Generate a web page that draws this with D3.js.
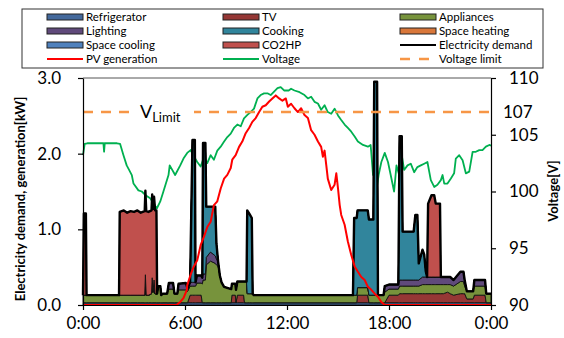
<!DOCTYPE html>
<html><head><meta charset="utf-8">
<script src="https://cdn.jsdelivr.net/npm/d3@7"></script>
<style>body{margin:0;background:#fff}svg{display:block}text{font-family:Lato,"Open Sans",sans-serif}</style>
</head><body><svg id="c" width="564" height="338"></svg>
<script>
// ---- data (hours of day) ----
const hours =        [0.00,0.05,0.17,0.21,2.12,2.16,2.40,2.60,2.80,3.00,3.20,3.40,3.63,3.67,3.72,3.85,4.03,4.07,4.12,4.18,4.24,4.32,4.36,4.42,4.55,4.60,4.70,4.95,5.05,5.30,5.38,5.55,5.62,6.05,6.15,6.30,6.44,6.58,6.62,6.70,6.95,7.02,7.06,7.20,7.25,7.50,7.78,7.85,7.95,8.05,8.15,8.30,8.72,8.76,8.96,9.00,9.08,9.45,9.50,9.62,9.66,9.80,9.93,9.98,10.05,15.88,15.95,16.10,16.15,16.75,16.82,17.08,17.13,17.30,17.35,17.68,17.75,18.00,18.55,18.62,18.75,18.80,19.45,19.55,19.67,19.75,19.97,20.07,20.16,20.24,20.30,20.50,20.66,20.75,21.00,21.05,21.20,21.45,21.60,21.80,22.20,22.38,22.45,22.58,22.95,23.02,23.65,23.72,24.00];
const refrigerator = hours.map(() => 0.03);
const tv =           [0,0,0,0,0,0,0,0,0,0,0,0,0,0,0,0,0,0,0,0,0,0,0,0,0,0,0,0,0,0,0,0,0,0,0,0.10,0.10,0.10,0.10,0.10,0.10,0,0,0,0,0,0,0,0,0,0,0,0,0.10,0.10,0,0.10,0.10,0,0,0,0,0,0,0,0,0,0,0.10,0.10,0,0,0,0,0,0,0,0.10,0.10,0.12,0.12,0.12,0.12,0.12,0.12,0.12,0.12,0.12,0.12,0.12,0.12,0.12,0.12,0.12,0.12,0.12,0.12,0.14,0.12,0.10,0.12,0.12,0.12,0.05,0.05,0.10,0.10,0,0];
const appliances =   [0.10,0.10,0.10,0.10,0.10,0.10,0.10,0.10,0.10,0.10,0.10,0.10,0.10,0.37,0.10,0.10,0.12,0.33,0.14,0.30,0.12,0.12,0.12,0.22,0.22,0.10,0.12,0.12,0.18,0.18,0.12,0.12,0.17,0.17,0.15,0.12,0.12,0.12,0.12,0.16,0.16,0.25,0.30,0.30,0.50,0.55,0.52,0.50,0.48,0.36,0.27,0.21,0.18,0.15,0.15,0.17,0.18,0.18,0.28,0.28,0.12,0.12,0.12,0.12,0.10,0.10,0.10,0.10,0.10,0.10,0.10,0.10,0.10,0.10,0.10,0.10,0.14,0.08,0.08,0.10,0.10,0.10,0.10,0.10,0.10,0.10,0.12,0.12,0.12,0.12,0.12,0.12,0.12,0.12,0.12,0.12,0.12,0.10,0.12,0.12,0.16,0.16,0.10,0.10,0.10,0.12,0.12,0.12,0.12];
const lighting =     [0,0,0,0,0,0,0,0,0,0,0,0,0,0,0,0,0,0,0,0,0,0,0,0,0,0,0,0,0.08,0.08,0,0,0.08,0.09,0.04,0.05,0.05,0.05,0.05,0.10,0.10,0.08,0.08,0.08,0.10,0.12,0.10,0.08,0.06,0,0,0,0,0,0,0,0,0,0,0,0,0,0,0,0,0,0,0,0,0,0,0,0,0,0,0,0.08,0.06,0.06,0.08,0.08,0.08,0.08,0.08,0.08,0.08,0.10,0.10,0.10,0.10,0.10,0.10,0.10,0.10,0.10,0.10,0.10,0.10,0.10,0.08,0.13,0.13,0.08,0,0,0.08,0.08,0,0];
const cooking =      [0,0,0,0,0,0,0,0,0,0,0,0,0,0,0,0,0,0,0,0,0,0,0,0,0,0,0,0,0,0,0,0,0,0,0,0,1.88,1.88,0,0,0,0,1.73,1.73,0.67,0.60,0.65,0.20,0,0,0,0,0,0,0,0,0,0,0,0,1.10,1.05,1.00,0,0,0,1.02,1.02,1.02,1.02,1.00,1.00,2.82,2.82,0,0,0,0,0,1.90,1.90,0.64,0.64,0.86,0.86,0.22,0.36,0.30,0.08,0,0,0,0,0,0,0,0,0,0,0,0,0,0,0,0,0,0,0,0];
const spaceHeating = hours.map(() => 0);
const spaceCooling = hours.map(() => 0);
const co2hp =        [0,1.08,1.08,0,0,1.10,1.12,1.09,1.11,1.10,1.12,1.09,1.11,1.11,1.11,1.10,1.10,1.10,1.10,1.10,1.10,1.10,0,0,0,0,0,0,0,0,0,0,0,0,0,0,0,0,0,0,0,0,0,0,0,0,0,0,0,0,0,0,0,0,0,0,0,0,0,0,0,0,0,0,0,0,0,0,0,0,0,0,0,0,0,0,0,0,0,0,0,0,0,0,0,0,0,0,0,0,0.97,1.08,1.08,0.97,0.97,0,0,0,0,0,0,0,0,0,0,0,0,0,0];

const pvHours = [0,5.50,5.72,5.91,6.11,6.13,6.33,6.52,6.72,6.92,7.11,7.31,7.51,7.70,7.90,8.10,8.30,8.49,8.69,8.78,8.98,9.18,9.37,9.57,9.77,9.96,10.16,10.36,10.55,10.75,10.95,11.14,11.34,11.54,11.73,11.93,12.05,12.24,12.44,12.64,12.83,13.03,13.23,13.42,13.62,13.82,14.01,14.11,14.21,14.31,14.40,14.60,14.80,14.90,15.00,15.10,15.19,15.39,15.58,15.78,15.98,16.17,16.37,16.57,16.76,16.96,17.16,17.35,17.55,17.75,24];
const pvGeneration = [0,0,0.04,0.09,0.20,0.26,0.40,0.51,0.59,0.79,0.90,1.03,1.10,1.32,1.37,1.54,1.67,1.72,1.81,1.92,1.98,2.09,2.16,2.27,2.34,2.42,2.47,2.55,2.62,2.64,2.69,2.73,2.77,2.73,2.70,2.73,2.62,2.66,2.60,2.55,2.60,2.51,2.47,2.31,2.25,2.16,2.09,1.96,2.04,1.85,1.67,1.52,1.59,1.74,1.54,1.32,1.19,1.06,0.84,0.66,0.51,0.44,0.37,0.33,0.24,0.20,0.15,0.11,0.04,0,0];

const vHours = [0,0.10,0.25,0.50,0.75,1.00,1.20,1.24,1.28,1.50,1.75,2.00,2.18,2.38,2.57,2.75,2.87,2.97,3.26,3.46,3.66,3.95,4.15,4.34,4.54,4.73,5.03,5.10,5.42,5.72,5.91,6.13,6.33,6.52,6.72,6.92,7.11,7.31,7.51,7.70,7.90,8.10,8.30,8.49,8.69,8.88,9.08,9.28,9.47,9.67,9.86,10.06,10.26,10.45,10.65,10.85,11.04,11.24,11.44,11.63,11.83,12.10,12.24,12.44,12.74,13.03,13.23,13.42,13.62,13.82,14.01,14.21,14.40,14.60,14.80,15.00,15.19,15.39,15.58,15.78,15.98,16.17,16.47,16.76,16.92,17.06,17.16,17.26,17.39,17.55,17.75,17.94,18.10,18.30,18.44,18.60,18.75,18.89,19.09,19.28,19.48,19.67,19.87,20.07,20.26,20.46,20.66,20.85,21.05,21.15,21.25,21.44,21.64,21.83,21.93,22.13,22.33,22.52,22.72,22.92,23.11,23.31,23.50,23.70,23.90,24.00];
const voltage = [103.2,104.2,104.25,104.25,104.25,104.25,104.25,103.5,104.25,104.25,104.25,104.25,104.2,103.2,102.3,101.8,101.45,100.7,100.1,100.0,99.7,99.4,98.96,98.5,99.1,100.0,101.45,102.3,101.45,102.3,102.9,103.4,103.65,103.1,102.6,102.2,103.0,102.5,103.2,102.8,103.6,103.95,104.4,104.8,105.1,105.6,105.9,105.75,106.45,106.75,107.0,107.3,108.2,108.5,108.65,108.65,108.5,108.8,109.1,109.2,108.9,108.9,109.05,108.9,108.75,108.5,108.2,108.35,107.9,107.75,107.2,107.6,107.0,106.85,107.3,106.7,106.3,105.9,105.6,105.27,104.85,104.4,104.1,103.95,104.1,101.45,101.9,100.1,101.45,102.6,103.4,102.6,101.45,100.0,102.3,101.45,103.2,101.9,102.3,102.45,101.7,102.15,102.3,102.45,102.6,101.0,100.4,100.6,101.0,101.45,100.7,100.7,101.15,101.6,102.9,103.2,102.75,101.6,101.75,103.5,103.5,103.65,103.65,103.95,104.1,104.05];
const voltageLimit = 107;

const keys = ["Refrigerator","TV","Appliances","Lighting","Cooking","Space heating","Space cooling","CO2HP"];
const seriesArrays = [refrigerator,tv,appliances,lighting,cooking,spaceHeating,spaceCooling,co2hp];
const colors = ["#44699C","#953735","#77933C","#604A7B","#31859C","#D9773A","#4F81BD","#C0504D"];
const xTicks = [0,6,12,18,24];
const yTicks = [0,1,2,3];
const vTicks = [90,95,100,105,110];

// ---- layout ----
const L = 83, R = 491, T = 78, B = 305;
const svg = d3.select("#c");
const x = d3.scaleLinear().domain([0,24]).range([L,R]);
const y = d3.scaleLinear().domain([0,3]).range([B,T]);
const yV = d3.scaleLinear().domain([90,110]).range([B,T]);

const rows = hours.map((t,i)=>{const o={t}; keys.forEach((k,j)=>o[k]=seriesArrays[j][i]); return o;});
const stacked = d3.stack().keys(keys)(rows);

// voltage (beneath stack)
svg.append("path").datum(vHours.map((t,i)=>[t,voltage[i]]))
  .attr("fill","none").attr("stroke","#00B050").attr("stroke-width",1.8).attr("stroke-linejoin","round")
  .attr("d", d3.line().x(d=>x(d[0])).y(d=>yV(d[1])));

const area = d3.area().x(d=>x(d.data.t)).y0(d=>y(d[0])).y1(d=>y(d[1]));
svg.append("g").selectAll("path").data(stacked).join("path")
  .attr("fill",(d,i)=>colors[i]).attr("stroke","#111").attr("stroke-width",0.9).attr("stroke-linejoin","round")
  .attr("d",area);

// electricity demand
const total = rows.map(r=>[r.t, keys.reduce((s,k)=>s+r[k],0)]);
svg.append("path").datum(total).attr("fill","none").attr("stroke","#000").attr("stroke-width",2.4).attr("stroke-linejoin","round")
  .attr("d", d3.line().x(d=>x(d[0])).y(d=>y(d[1])));

// PV
svg.append("path").datum(pvHours.map((t,i)=>[t,pvGeneration[i]]))
  .attr("fill","none").attr("stroke","#FF0000").attr("stroke-width",2).attr("stroke-linejoin","round")
  .attr("d", d3.line().x(d=>x(d[0])).y(d=>y(d[1])));

// voltage limit
svg.append("line").attr("x1",L).attr("x2",R).attr("y1",yV(voltageLimit)).attr("y2",yV(voltageLimit))
  .attr("stroke","#F79646").attr("stroke-width",2.5).attr("stroke-dasharray","10,8");
svg.append("rect").attr("x",134).attr("y",yV(voltageLimit)-14).attr("width",60).attr("height",26).attr("fill","#fff");
const vl = svg.append("text").attr("x",140).attr("y",118).attr("font-size",18).attr("fill","#000");
vl.append("tspan").text("V");
vl.append("tspan").attr("font-size",13).attr("dy",4).text("Limit");

// frame
svg.append("line").attr("x1",L).attr("x2",R).attr("y1",T).attr("y2",T).attr("stroke","#555").attr("stroke-width",1);

// axes
const fmtAxis = g => { g.selectAll("text").attr("font-size",17).attr("fill","#000").attr("font-family","Lato"); g.selectAll("line,path").attr("stroke","#000").attr("stroke-width",1.2); };
svg.append("g").attr("transform",`translate(${L},0)`)
  .call(d3.axisLeft(y).tickValues(yTicks).tickFormat(d3.format(".1f")).tickSize(5).tickSizeOuter(0).tickPadding(17)).call(fmtAxis);
svg.append("g").attr("transform",`translate(${R},0)`)
  .call(d3.axisRight(yV).tickValues(vTicks).tickSize(5).tickSizeOuter(0).tickPadding(13)).call(fmtAxis);
svg.append("g").attr("transform",`translate(0,${B})`)
  .call(d3.axisBottom(x).tickValues(xTicks).tickFormat(d=>(d%24)+":00").tickSize(5).tickSizeOuter(0).tickPadding(7)).call(fmtAxis);
svg.append("text").attr("x",503).attr("y",yV(voltageLimit)+6).attr("font-size",17).text("107");

// axis titles
svg.append("text").attr("transform","translate(25,199) rotate(-90)").attr("text-anchor","middle")
  .attr("font-size",13).attr("font-weight","bold").text("Electricity demand, generation[kW]");
svg.append("text").attr("transform","translate(558,191) rotate(-90)").attr("text-anchor","middle")
  .attr("font-size",13).attr("font-weight","bold").text("Voltage[V]");

// legend
svg.append("rect").attr("x",22).attr("y",9).attr("width",521).attr("height",59).attr("fill","#fff").attr("stroke","#333").attr("stroke-width",1);
const legendItems = [
  {n:"Refrigerator",t:"area",c:colors[0]},{n:"TV",t:"area",c:colors[1]},{n:"Appliances",t:"area",c:colors[2]},
  {n:"Lighting",t:"area",c:colors[3]},{n:"Cooking",t:"area",c:colors[4]},{n:"Space heating",t:"area",c:colors[5]},
  {n:"Space cooling",t:"area",c:colors[6]},{n:"CO2HP",t:"area",c:colors[7]},{n:"Electricity demand",t:"line",c:"#000"},
  {n:"PV generation",t:"line",c:"#FF0000"},{n:"Voltage",t:"line",c:"#00B050"},{n:"Voltage limit",t:"dash",c:"#F79646"}];
const colX = [47,223,400], rowY = [17,31,45,59];
legendItems.forEach((it,i)=>{
  const cx = colX[i%3], cy = rowY[Math.floor(i/3)];
  if(it.t==="area") svg.append("rect").attr("x",cx).attr("y",cy-3).attr("width",36).attr("height",6).attr("fill",it.c).attr("stroke","#222").attr("stroke-width",1);
  else svg.append("line").attr("x1",cx).attr("x2",cx+36).attr("y1",cy).attr("y2",cy).attr("stroke",it.c)
      .attr("stroke-width",it.t==="dash"?2.5:1.8).attr("stroke-dasharray",it.t==="dash"?"10,9":null);
  svg.append("text").attr("x",cx+39).attr("y",cy+4).attr("font-size",11.5).text(it.n);
});
</script></body></html>
